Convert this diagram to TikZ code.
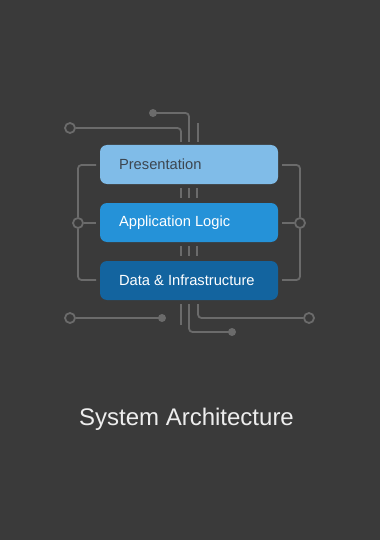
\documentclass[tikz,border=0pt]{standalone}
\usepackage{fontspec}
\setmainfont{Liberation Sans}
\definecolor{bg}{HTML}{3A3A3A}
\definecolor{wire}{HTML}{6B6B6B}
\definecolor{presc}{HTML}{80BCE8}
\definecolor{appc}{HTML}{2592D8}
\definecolor{datac}{HTML}{13649F}
\definecolor{darktext}{HTML}{3C4650}
\definecolor{titlec}{HTML}{EDEDED}
\begin{document}
\begin{tikzpicture}[x=1pt,y=-1pt,
  layer/.style={rounded corners=7pt, minimum width=178pt, minimum height=39pt, inner sep=0pt, draw=none},
  wireline/.style={draw=wire, line width=1.8pt, rounded corners=3.5pt},
  ring/.style={circle, draw=wire, line width=1.8pt, minimum size=10pt, inner sep=0pt},
  pin/.style={circle, fill=wire, minimum size=8pt, inner sep=0pt},
  lbl/.style={font=\fontsize{14.7}{16}\selectfont, anchor=west}]
\fill[bg] (0,0) rectangle (380,540);
\useasboundingbox (0,0) rectangle (380,540);
% layers
\node[layer, fill=presc] (pres) at (189,164.5) {};
\node[layer, fill=appc] (app) at (189,222.5) {};
\node[layer, fill=datac] (data) at (189,280.5) {};
\node[lbl, text=darktext] (presT) at (115.5,164.5) {Presentation};
\node[lbl, text=white] (appT) at (115.5,222.5) {Application Logic};
\node[lbl, text=white] (dataT) at (115.5,280.5) {Data \& Infrastructure};
% top wires
\node[ring] (ringTL) at (70,128) {};
\node[pin] (pinT) at (153,113) {};
\coordinate (t1) at (181,142);
\coordinate (t2) at (189,142);
\coordinate (t3a) at (198,123);
\coordinate (t3b) at (198,142);
\draw[wireline] (ringTL.east) -- (181,128) -- (t1);
\draw[wireline] (pinT.center) -- (189,113) -- (t2);
\draw[wireline] (t3a) -- (t3b);
% stubs between layers
\foreach \x in {181,189,197}{
  \draw[wireline] (\x,188) -- (\x,198);
  \draw[wireline] (\x,246) -- (\x,256);
}
% side brackets
\node[ring] (ringL) at (78,223) {};
\node[ring] (ringR) at (300,223) {};
\coordinate (l1) at (96,165);
\coordinate (l2) at (96,280);
\coordinate (l3) at (96,223);
\coordinate (r1) at (282,165);
\coordinate (r2) at (282,280);
\coordinate (r3) at (282,223);
\draw[wireline] (l1) -- (78,165) -- (ringL.north);
\draw[wireline] (ringL.south) -- (78,280) -- (l2);
\draw[wireline] (ringL.east) -- (l3);
\draw[wireline] (r1) -- (300,165) -- (ringR.north);
\draw[wireline] (ringR.south) -- (300,280) -- (r2);
\draw[wireline] (ringR.west) -- (r3);
% bottom wires
\node[ring] (ringBL) at (70,318) {};
\node[pin] (pinBL) at (162,318) {};
\node[pin] (pinB) at (232,332) {};
\node[ring] (ringBR) at (309,318) {};
\coordinate (b1) at (181,304);
\coordinate (b1e) at (181,325);
\coordinate (b2) at (189,304);
\coordinate (b3) at (198,304);
\draw[wireline] (ringBL.east) -- (pinBL.center);
\draw[wireline] (b1) -- (b1e);
\draw[wireline] (b2) -- (189,332) -- (pinB.center);
\draw[wireline] (b3) -- (198,318) -- (ringBR.west);
% title
\node[font=\fontsize{24}{26}\selectfont, text=titlec] (title) at (186.5,419) {System Architecture};
\end{tikzpicture}
\end{document}
